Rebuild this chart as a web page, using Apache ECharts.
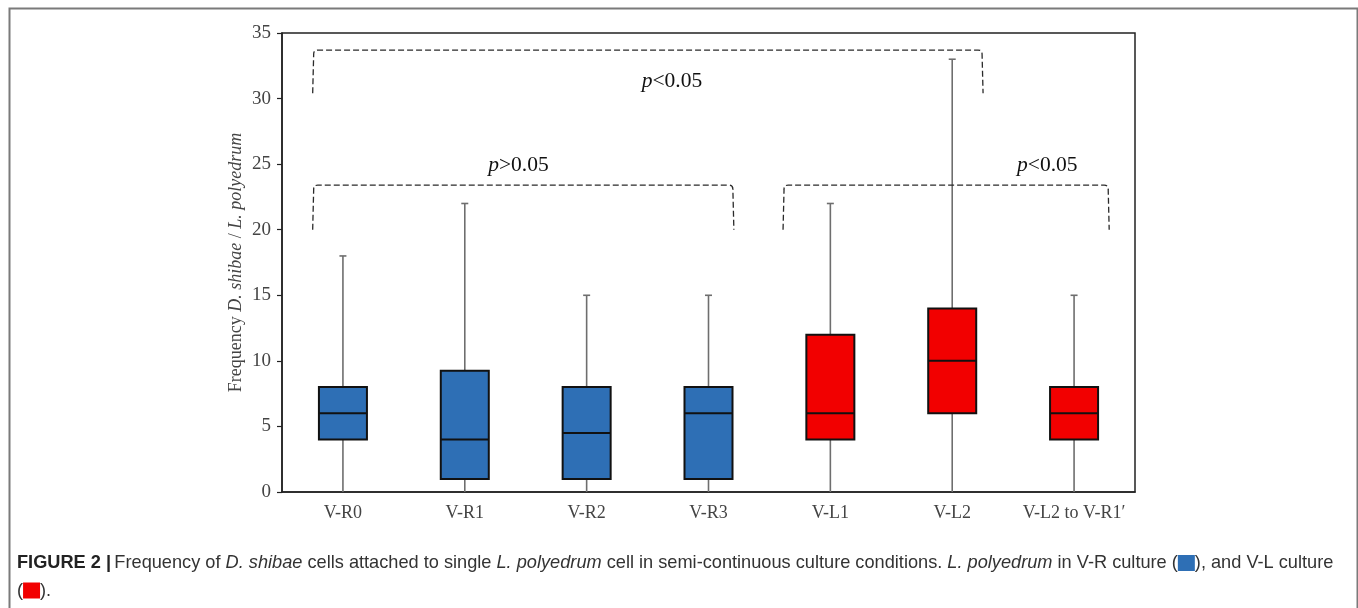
<!DOCTYPE html>
<html>
<head>
<meta charset="utf-8">
<script src="https://cdn.jsdelivr.net/npm/echarts@6/dist/echarts.min.js"></script>
<style>html,body{margin:0;padding:0;background:#fff;}#c{width:1358px;height:608px;}</style>
</head>
<body>
<div id="c"></div>
<script>
// ---- data ----
const categories = ['V-R0', 'V-R1', 'V-R2', 'V-R3', 'V-L1', 'V-L2', 'V-L2 to V-R1\u2032'];
const groups     = ['V-R', 'V-R', 'V-R', 'V-R', 'V-L', 'V-L', 'V-L'];
const mins    = [0, 0, 0, 0, 0, 0, 0];
const q1s     = [4, 1, 1, 1, 4, 6, 4];
const medians = [6, 4, 4.5, 6, 6, 10, 6];
const q3s     = [8, 9.25, 8, 8, 12, 14, 8];
const maxs    = [18, 22, 15, 15, 22, 33, 15];
const yTicks  = [0, 5, 10, 15, 20, 25, 30, 35];

// significance brackets: from category, to category, top value, foot value, label
const bracketFrom   = [0, 0, 4];
const bracketTo     = [5, 3, 6];
const bracketTop    = [33.7, 23.4, 23.4];
const bracketFoot   = [30.4, 20, 20];
const bracketOp     = ['<', '>', '<'];
const bracketPValue = ['0.05', '0.05', '0.05'];

// ---- styling / layout (not data) ----
const groupColor = { 'V-R': '#2E6FB5', 'V-L': '#F20000' };
const bracketLeftOff  = [-0.24, -0.24, -0.38];   // in category bands
const bracketRightOff = [0.245, 0.2, 0.28];
const labelCat = [2.70, 1.44, 5.78];
const labelVal = [31.35, 24.9, 24.9];
const serif = '"Liberation Serif", "Times New Roman", serif';
const sans = '"Liberation Sans", Arial, sans-serif';
const capSize = 18.2;

const chart = echarts.init(document.getElementById('c'), null, { renderer: 'canvas' });

const boxData = categories.map((c, i) => [i, mins[i], q1s[i], medians[i], q3s[i], maxs[i]]);
const bracketData = bracketFrom.map((f, i) => [f, bracketTo[i], bracketTop[i], bracketFoot[i], i]);

function renderBox(params, api) {
  const i = api.value(0);
  const band = api.size([1, 0])[0];
  const hw = band * 0.197;
  const pMin = api.coord([i, api.value(1)]);
  const pQ1 = api.coord([i, api.value(2)]);
  const pMed = api.coord([i, api.value(3)]);
  const pQ3 = api.coord([i, api.value(4)]);
  const pMax = api.coord([i, api.value(5)]);
  const x = pMed[0];
  const wStyle = { stroke: '#6e6e6e', lineWidth: 1.6 };
  const bStyle = { stroke: '#111', lineWidth: 2 };
  const fill = groupColor[groups[i]];
  return {
    type: 'group',
    children: [
      { type: 'line', shape: { x1: x, y1: pQ3[1], x2: x, y2: pMax[1] }, style: wStyle },
      { type: 'line', shape: { x1: x, y1: pMin[1], x2: x, y2: pQ1[1] }, style: wStyle },
      { type: 'line', shape: { x1: x - 3.5, y1: pMax[1], x2: x + 3.5, y2: pMax[1] }, style: wStyle },
      { type: 'rect', shape: { x: x - hw, y: pQ3[1], width: hw * 2, height: pQ1[1] - pQ3[1] },
        style: { fill: fill, stroke: '#111', lineWidth: 2 } },
      { type: 'line', shape: { x1: x - hw, y1: pMed[1], x2: x + hw, y2: pMed[1] }, style: bStyle }
    ]
  };
}

function renderBracket(params, api) {
  const k = api.value(4);
  const band = api.size([1, 0])[0];
  const a = api.coord([api.value(0), api.value(2)]);
  const b = api.coord([api.value(1), api.value(2)]);
  const foot = api.coord([api.value(0), api.value(3)])[1];
  const xl = a[0] + bracketLeftOff[k] * band;
  const xr = b[0] + bracketRightOff[k] * band;
  const yt = a[1];
  const r = 4;
  const path = 'M' + (xl - 1) + ' ' + foot + ' L' + xl + ' ' + (yt + r) +
    ' Q' + xl + ' ' + yt + ' ' + (xl + r) + ' ' + yt +
    ' L' + (xr - r) + ' ' + yt +
    ' Q' + xr + ' ' + yt + ' ' + xr + ' ' + (yt + r) +
    ' L' + (xr + 1) + ' ' + foot;
  const lp = api.coord([0, labelVal[k]]);
  const lx = api.coord([0, 0])[0] + labelCat[k] * band;
  return {
    type: 'group',
    children: [
      { type: 'path', shape: { pathData: path },
        style: { fill: null, stroke: '#2a2a2a', lineWidth: 1.3, lineDash: [6, 3] } },
      { type: 'text', x: lx, y: lp[1],
        style: {
          text: '{i|p}{n|' + bracketOp[k] + bracketPValue[k] + '}',
          align: 'center', verticalAlign: 'middle',
          rich: {
            i: { fontFamily: serif, fontStyle: 'italic', fontSize: 21.5, fill: '#111' },
            n: { fontFamily: serif, fontSize: 21.5, fill: '#111' }
          }
        } }
    ]
  };
}

const option = {
  animation: false,
  backgroundColor: '#fff',
  grid: { left: 282, right: 223, top: 33, bottom: 116, show: true, borderColor: '#222', borderWidth: 1.5, containLabel: false },
  xAxis: {
    type: 'category',
    data: categories,
    axisLine: { lineStyle: { color: '#222', width: 1.5 } },
    axisTick: { show: false },
    axisLabel: { fontFamily: serif, fontSize: 18, color: '#444', margin: 12, interval: 0 },
    splitLine: { show: false }
  },
  yAxis: {
    type: 'value',
    min: yTicks[0], max: yTicks[yTicks.length - 1], interval: yTicks[1] - yTicks[0],
    axisLine: { show: true, lineStyle: { color: '#222', width: 1.5 } },
    axisTick: { show: true, inside: false, length: 5, lineStyle: { color: '#222', width: 1.2 } },
    axisLabel: { fontFamily: serif, fontSize: 19, color: '#444', margin: 11 },
    splitLine: { show: false },
    name: '{n|Frequency }{i|D. shibae}{n| / }{i|L. polyedrum}',
    nameLocation: 'middle',
    nameRotate: 90,
    nameGap: 37,
    nameMoveOverlap: false,
    nameTextStyle: {
      rich: {
        n: { fontFamily: serif, fontSize: 18, color: '#444' },
        i: { fontFamily: serif, fontSize: 18, color: '#444', fontStyle: 'italic' }
      }
    }
  },
  series: [
    { type: 'custom', name: 'box', data: boxData, renderItem: renderBox,
      encode: { x: 0, y: [1, 2, 3, 4, 5] }, z: 3 },
    { type: 'custom', name: 'brackets', data: bracketData, renderItem: renderBracket,
      encode: { x: 0, y: [2, 3] }, z: 4 }
  ],
  graphic: [
    { type: 'rect', left: 7, top: 6, shape: { width: 1348, height: 640 },
      style: { fill: null, stroke: '#7a7a7a', lineWidth: 2 }, silent: true },
    { type: 'text', left: 17, top: 554,
      style: {
        text: '{b|FIGURE 2 |} {t|Frequency of }{i|D. shibae}{t| cells attached to single }{i|L. polyedrum}{t| cell in semi-continuous culture conditions. }{i|L. polyedrum}{t| in V-R culture (}{sb| }{t|), and V-L culture}\n{t|(}{sr| }{t|).}',
        rich: {
          b: { fontFamily: sans, fontWeight: 'bold', fontSize: capSize, fill: '#222', lineHeight: 27.5 },
          t: { fontFamily: sans, fontSize: capSize, fill: '#333', lineHeight: 27.5 },
          i: { fontFamily: sans, fontStyle: 'italic', fontSize: capSize, fill: '#333', lineHeight: 27.5 },
          sb: { width: 17, height: 16, backgroundColor: groupColor['V-R'], lineHeight: 27.5 },
          sr: { width: 17, height: 16, backgroundColor: groupColor['V-L'], lineHeight: 27.5 }
        }
      }, silent: true }
  ]
};
chart.setOption(option);
</script>
</body>
</html>
